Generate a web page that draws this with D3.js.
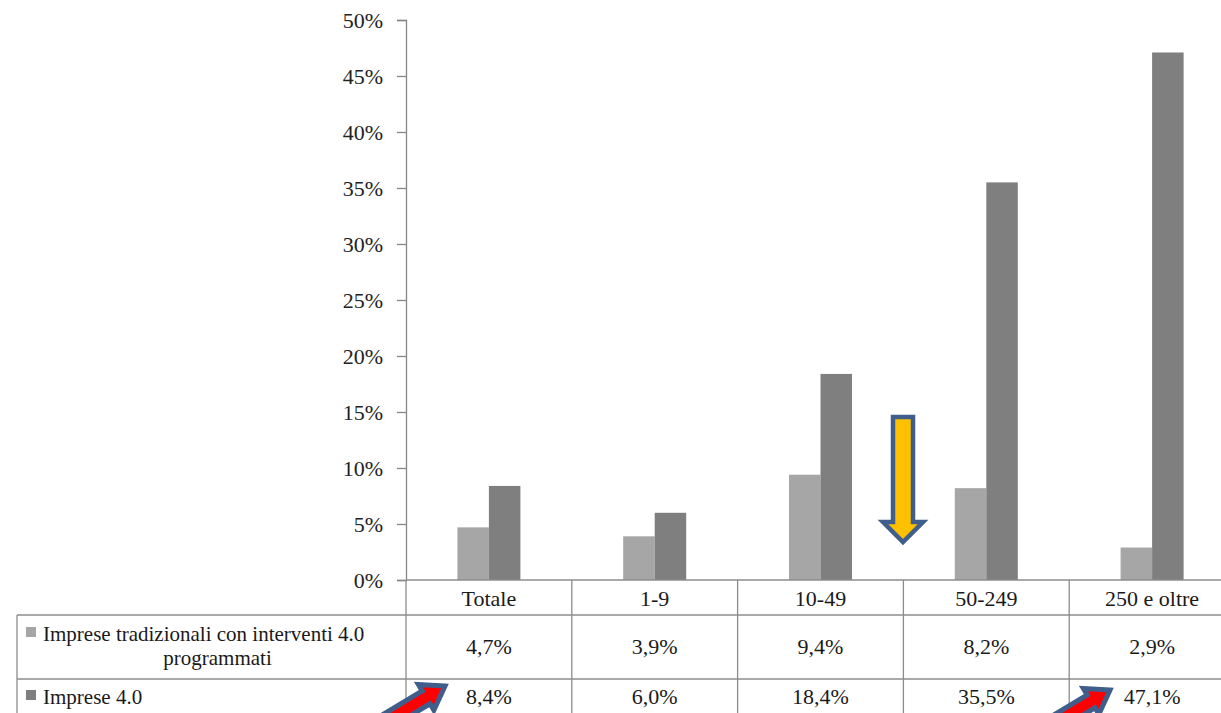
<!DOCTYPE html>
<html>
<head>
<meta charset="utf-8">
<script src="https://cdn.jsdelivr.net/npm/d3@7"></script>
<style>
  body { margin: 0; background: #fff; }
  svg { display: block; }
</style>
</head>
<body>
<div id="chart"></div>
<script>
// data
const categories = ["Totale", "1-9", "10-49", "50-249", "250 e oltre"];
const seriesLines = [["Imprese tradizionali con interventi 4.0", "programmati"], ["Imprese 4.0"]];
const tradizionali = [4.7, 3.9, 9.4, 8.2, 2.9];
const imprese40 = [8.4, 6.0, 18.4, 35.5, 47.1];
const yTicks = [0, 5, 10, 15, 20, 25, 30, 35, 40, 45, 50];
const seriesColors = ["#a6a6a6", "#7f7f7f"];

const width = 1221,
  height = 713;

const bandW = 165.8;
const axisX = 406;
const tableLeft = 17;
const serif = "Liberation Serif";

const svg = d3
  .select("#chart")
  .append("svg")
  .attr("width", width)
  .attr("height", height);

const x = d3
  .scaleBand()
  .domain(categories)
  .range([axisX, axisX + bandW * categories.length])
  .padding(0);

const xInner = d3
  .scaleBand()
  .domain([0, 1])
  .range([bandW / 2 - 31.5, bandW / 2 + 31.5]);

const y = d3.scaleLinear().domain([0, 50]).range([580, 20]);

// bars
const allValues = [tradizionali, imprese40];
allValues.forEach((vals, si) => {
  svg
    .append("g")
    .selectAll("rect")
    .data(vals)
    .enter()
    .append("rect")
    .attr("x", (d, i) => x(categories[i]) + xInner(si))
    .attr("y", (d) => y(d))
    .attr("width", xInner.bandwidth())
    .attr("height", (d) => y(0) - y(d))
    .attr("fill", seriesColors[si]);
});

// y axis
const yAxis = d3
  .axisLeft(y)
  .tickValues(yTicks)
  .tickSize(9)
  .tickPadding(14)
  .tickFormat((d) => d + "%");

const gy = svg.append("g").attr("transform", `translate(${axisX},0)`).call(yAxis);
gy.attr("font-family", null).attr("font-size", null);
gy.select(".domain").attr("stroke", "#868686").attr("stroke-width", 1.3);
gy.selectAll(".tick line").attr("stroke", "#868686").attr("stroke-width", 1.3);
gy.selectAll(".tick text")
  .attr("fill", "#222222")
  .attr("dy", "0.34em")
  .attr("font-family", serif)
  .attr("font-size", 22);

// data table
const lineColor = "#8c8c8c";
const tbl = svg.append("g");

function hLine(x1, x2, yy) {
  tbl
    .append("line")
    .attr("x1", x1)
    .attr("x2", x2)
    .attr("y1", yy)
    .attr("y2", yy)
    .attr("stroke", lineColor)
    .attr("stroke-width", 1.3);
}
function vLine(xx, y1, y2) {
  tbl
    .append("line")
    .attr("x1", xx)
    .attr("x2", xx)
    .attr("y1", y1)
    .attr("y2", y2)
    .attr("stroke", lineColor)
    .attr("stroke-width", 1.3);
}

hLine(axisX, width, 580);
hLine(tableLeft, width, 615);
hLine(tableLeft, width, 679);
vLine(tableLeft, 615, height);
categories.forEach((c) => vLine(x(c), 580, height));

function addText(xx, yy, str, anchor, size) {
  return svg
    .append("text")
    .attr("x", xx)
    .attr("y", yy)
    .attr("font-family", serif)
    .attr("font-size", size)
    .attr("text-anchor", anchor)
    .attr("fill", "#1a1a1a")
    .text(str);
}

// header
categories.forEach((c) => addText(x(c) + bandW / 2, 606, c, "middle", 22));

const fmt = (v) => v.toFixed(1).replace(".", ",") + "%";
const rowTextY = [654, 704];

allValues.forEach((vals, si) => {
  vals.forEach((v, i) => {
    addText(x(categories[i]) + bandW / 2, rowTextY[si], fmt(v), "middle", 22);
  });
});

// row labels with legend keys
const labelFirstY = [641, 704];
seriesLines.forEach((lines, si) => {
  tbl
    .append("rect")
    .attr("x", 26)
    .attr("y", labelFirstY[si] - 14)
    .attr("width", 10)
    .attr("height", 10)
    .attr("fill", seriesColors[si]);
  addText(43, labelFirstY[si], lines[0], "start", 21);
  if (lines[1]) {
    addText((43 + 392) / 2, labelFirstY[si] + 24, lines[1], "middle", 21);
  }
});

// yellow down arrow
const downArrow = [
  [893, 417],
  [913, 417],
  [913, 522],
  [923, 522],
  [903, 542],
  [883, 522],
  [893, 522],
];
svg
  .append("polygon")
  .attr("points", downArrow.map((p) => p.join(",")).join(" "))
  .attr("fill", "#ffc000")
  .attr("stroke", "#3f5e8c")
  .attr("stroke-width", 4.5)
  .attr("stroke-linejoin", "miter");

// red arrows pointing to the values
function redArrow(tipX, tipY) {
  const pts = [
    [0, 0],
    [-22, -15],
    [-22, -7.5],
    [-100, -7.5],
    [-100, 7.5],
    [-22, 7.5],
    [-22, 15],
  ];
  svg
    .append("polygon")
    .attr("points", pts.map((p) => p.join(",")).join(" "))
    .attr("transform", `translate(${tipX},${tipY}) rotate(-31)`)
    .attr("fill", "#ff0000")
    .attr("stroke", "#3f5e8c")
    .attr("stroke-width", 5)
    .attr("stroke-linejoin", "miter");
}
redArrow(445, 686);
redArrow(1110, 690);
</script>
</body>
</html>
